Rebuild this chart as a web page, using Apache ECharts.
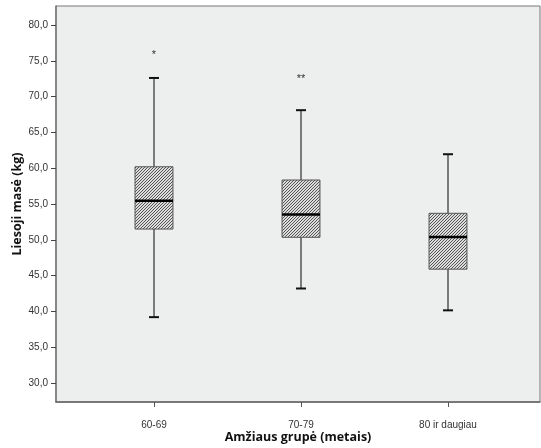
<!DOCTYPE html>
<html>
<head>
<meta charset="utf-8">
<script src="https://cdn.jsdelivr.net/npm/echarts@6/dist/echarts.min.js"></script>
<style>
html,body{margin:0;padding:0;background:#fff;}
#chart{width:541px;height:448px;}
</style>
</head>
<body>
<div id="chart"></div>
<script>
const categories = ['60-69', '70-79', '80 ir daugiau'];
const lowerWhisker = [39.2, 43.2, 40.15];
const q1 = [51.5, 50.35, 45.9];
const median = [55.45, 53.55, 50.4];
const q3 = [60.2, 58.35, 53.7];
const upperWhisker = [72.6, 68.1, 61.95];
const outlierCategory = [0, 1];
const outlierValue = [76.1, 72.7];
const outlierMark = ['*', '**'];
const yTicks = [30, 35, 40, 45, 50, 55, 60, 65, 70, 75, 80];
const yMin = 27.35, yMax = 82.65;

// hatch pattern
const pc = document.createElement('canvas');
pc.width = 3; pc.height = 3;
const g = pc.getContext('2d');
g.fillStyle = '#dcdcdc';
g.fillRect(0, 0, 3, 3);
g.fillStyle = '#555';
g.fillRect(2, 0, 1, 1);
g.fillRect(1, 1, 1, 1);
g.fillRect(0, 2, 1, 1);

const boxData = categories.map((c, i) => [i, lowerWhisker[i], q1[i], median[i], q3[i], upperWhisker[i]]);
const outData = outlierCategory.map((c, i) => [c, outlierValue[i], outlierMark[i]]);

const chart = echarts.init(document.getElementById('chart'), null, {renderer: 'canvas'});
chart.setOption({
  animation: false,
  grid: [
    {left: 56, right: 1, top: 6, bottom: 46, show: true, backgroundColor: '#edeeee', borderColor: '#777', borderWidth: 1, outerBoundsMode: 'none', containLabel: false},
    {left: 80.5, right: 19.5, top: 6, bottom: 46, outerBoundsMode: 'none', containLabel: false}
  ],
  xAxis: [
    {gridIndex: 0, type: 'value', min: 0, max: 1,
     axisLine: {show: true, onZero: false, lineStyle: {color: '#666', width: 1.5}},
     axisTick: {show: false}, axisLabel: {show: false}, splitLine: {show: false},
     name: 'Amžiaus grupė (metais)', nameLocation: 'middle', nameGap: 29,
     nameTextStyle: {fontFamily: 'Open Sans', fontWeight: 'bold', fontSize: 12.5, color: '#111'}},
    {gridIndex: 1, type: 'category', data: categories,
     axisLine: {show: false}, axisTick: {show: true, alignWithLabel: true, length: 5, lineStyle: {color: '#555', width: 1}},
     axisLabel: {fontFamily: 'Liberation Sans', fontSize: 10, color: '#333', margin: 18},
     splitLine: {show: false}}
  ],
  yAxis: [
    {gridIndex: 0, type: 'value', min: yMin, max: yMax,
     axisLine: {show: true, lineStyle: {color: '#777', width: 1.5}},
     axisTick: {show: true, length: 5, customValues: yTicks, lineStyle: {color: '#444'}},
     axisLabel: {customValues: yTicks, fontFamily: 'Liberation Sans', fontSize: 10, color: '#333', margin: 8,
       formatter: v => v.toFixed(1).replace('.', ',')},
     splitLine: {show: false},
     name: 'Liesoji masė (kg)', nameLocation: 'middle', nameGap: 32, nameMoveOverlap: false,
     nameTextStyle: {fontFamily: 'Open Sans', fontWeight: 'bold', fontSize: 12.5, color: '#111'}},
    {gridIndex: 1, type: 'value', min: yMin, max: yMax, show: false}
  ],
  series: [
    {
      type: 'custom', xAxisIndex: 1, yAxisIndex: 1, data: boxData,
      renderItem: function (params, api) {
        const i = api.value(0);
        const band = api.size([1, 0])[0];
        const bw = band * 0.258;
        const cw = 10;
        const pLow = api.coord([i, api.value(1)]);
        const pQ1 = api.coord([i, api.value(2)]);
        const pMed = api.coord([i, api.value(3)]);
        const pQ3 = api.coord([i, api.value(4)]);
        const pHigh = api.coord([i, api.value(5)]);
        const x = pMed[0];
        return {type: 'group', children: [
          {type: 'line', shape: {x1: x, y1: pQ3[1], x2: x, y2: pHigh[1]}, style: {stroke: '#555', lineWidth: 1.5}},
          {type: 'line', shape: {x1: x, y1: pQ1[1], x2: x, y2: pLow[1]}, style: {stroke: '#555', lineWidth: 1.5}},
          {type: 'line', shape: {x1: x - cw / 2, y1: pHigh[1], x2: x + cw / 2, y2: pHigh[1]}, style: {stroke: '#111', lineWidth: 2}},
          {type: 'line', shape: {x1: x - cw / 2, y1: pLow[1], x2: x + cw / 2, y2: pLow[1]}, style: {stroke: '#111', lineWidth: 2}},
          {type: 'rect', shape: {x: x - bw / 2, y: pQ3[1], width: bw, height: pQ1[1] - pQ3[1]},
            style: {fill: {image: pc, repeat: 'repeat'}, stroke: '#555', lineWidth: 1}},
          {type: 'line', shape: {x1: x - bw / 2, y1: pMed[1], x2: x + bw / 2, y2: pMed[1]}, style: {stroke: '#000', lineWidth: 2.5}}
        ]};
      }
    },
    {
      type: 'custom', xAxisIndex: 1, yAxisIndex: 1, data: outData,
      renderItem: function (params, api) {
        const p = api.coord([api.value(0), api.value(1)]);
        return {type: 'text', style: {text: outData[params.dataIndex][2], x: p[0], y: p[1] + 2,
          textAlign: 'center', textVerticalAlign: 'middle', font: '11px "Liberation Sans"', fill: '#333'}};
      }
    }
  ]
});
</script>
</body>
</html>
